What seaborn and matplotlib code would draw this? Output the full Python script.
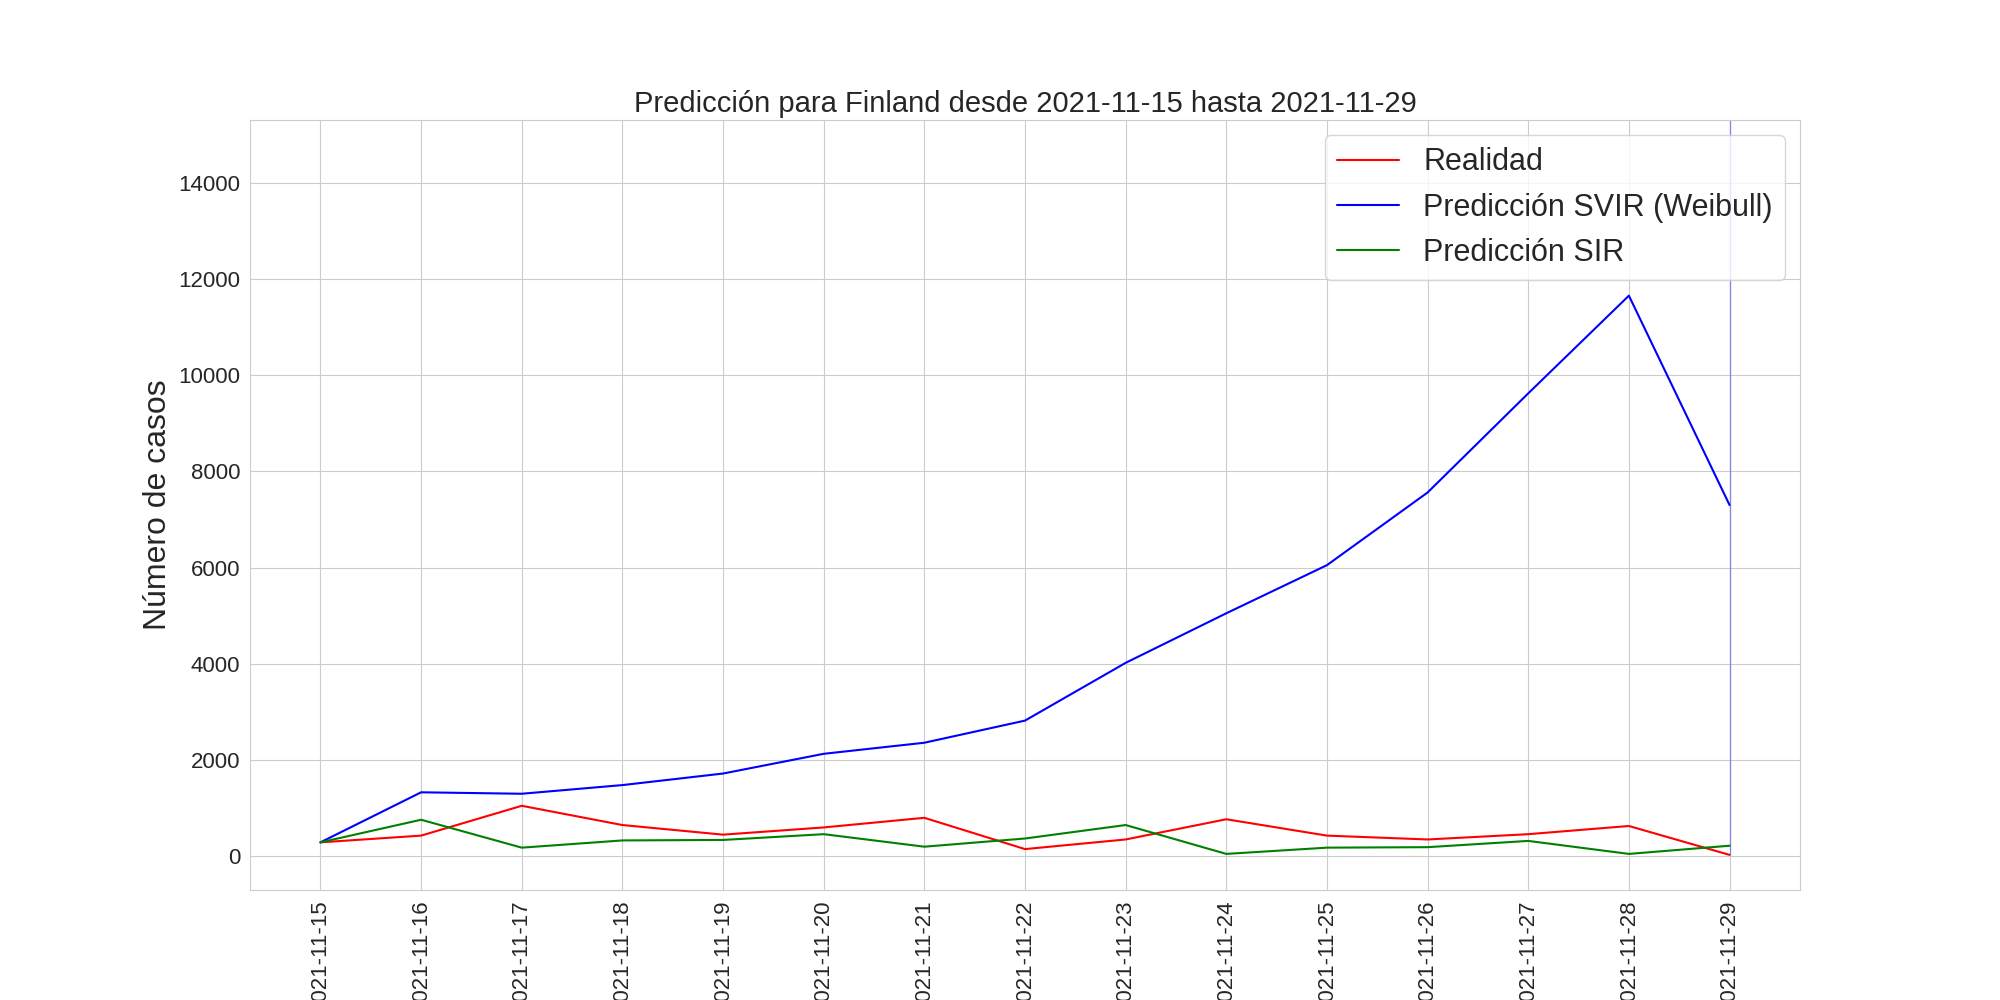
import numpy as np
import pandas as pd
import matplotlib
matplotlib.use("Agg")
import matplotlib.pyplot as plt
import seaborn as sns

fechas = ["2021-11-%02d" % d for d in range(15, 30)]
realidad = [290, 430, 1050, 650, 450, 600, 800, 150, 350, 770, 430, 350, 460, 630, 30]
svir = [290, 1330, 1300, 1480, 1720, 2130, 2360, 2820, 4020, 5050, 6050, 7560, 9620, 11650, 7300]
sir = [290, 760, 180, 330, 340, 460, 200, 370, 650, 50, 180, 190, 320, 50, 220]

sns.set_style("whitegrid")
plt.rcParams['font.family'] = ['Liberation Sans', 'DejaVu Sans']
fig, ax = plt.subplots(figsize=(20, 10), dpi=100)

df = pd.DataFrame({"fecha": fechas, "real": realidad, "svir": svir, "sir": sir})
sns.lineplot(x="fecha", y="real", data=df, ax=ax, color="red", label="Realidad", lw=1.5)
sns.lineplot(x="fecha", y="svir", data=df, ax=ax, color="blue", label="Predicción SVIR (Weibull)", lw=1.5)
sns.lineplot(x="fecha", y="sir", data=df, ax=ax, color="green", label="Predicción SIR", lw=1.5)
ax.vlines(len(fechas) - 1, realidad[-1], 15300, color="blue", alpha=0.35, lw=1)

ax.set_ylim(-700, 15300)
ax.set_title("Predicción para Finland desde 2021-11-15 hasta 2021-11-29", fontsize=21)
ax.set_ylabel("Número de casos", fontsize=23)
ax.set_xlabel("")
ax.tick_params(axis="x", labelrotation=90, labelsize=16)
ax.tick_params(axis="y", labelsize=16)
ax.legend(fontsize=22, loc="upper right")
fig.savefig("out.png", dpi=100)
